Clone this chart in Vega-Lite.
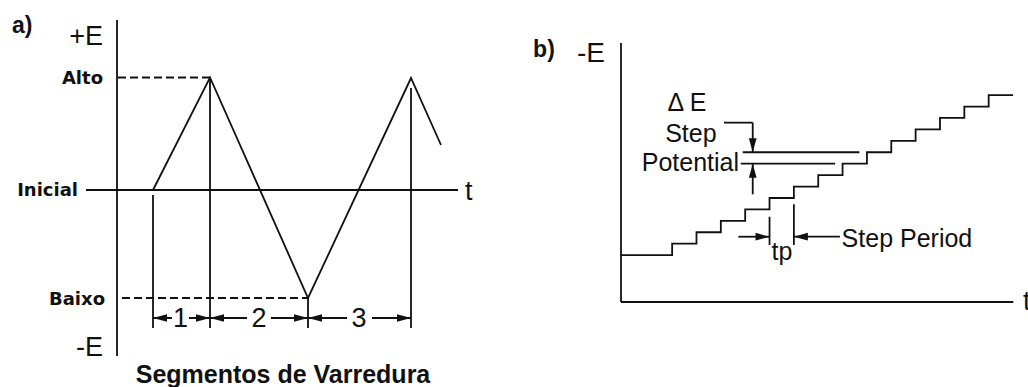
{
  "$schema": "https://vega.github.io/schema/vega-lite/v6.json",
  "padding": 0,
  "background": "white",
  "spacing": 0,
  "config": {
    "view": {"stroke": null},
    "text": {"font": "Liberation Sans", "color": "#111"}
  },
  "datasets": {
    "a_lines": [
      {"t": 0, "E": 17.0, "t2": 0, "E2": -16.6, "kind": "solid"},
      {"t": -3.1, "E": 0, "t2": 34.1, "E2": 0, "kind": "solid"},
      {"t": 0.1, "E": 11.25, "t2": 9.3, "E2": 11.25, "kind": "dashed"},
      {"t": 0.5, "E": -10.8, "t2": 19.1, "E2": -10.8, "kind": "dashed"},
      {"t": 3.6, "E": -0.5, "t2": 3.6, "E2": -13.8, "kind": "solid"},
      {"t": 9.3, "E": 11.25, "t2": 9.3, "E2": -13.8, "kind": "solid"},
      {"t": 19.1, "E": -10.8, "t2": 19.1, "E2": -13.8, "kind": "solid"},
      {"t": 29.4, "E": 10.2, "t2": 29.4, "E2": -13.8, "kind": "solid"},
      {"t": 3.6, "E": -12.8, "t2": 5.5, "E2": -12.8, "kind": "solid"},
      {"t": 7.2, "E": -12.8, "t2": 9.3, "E2": -12.8, "kind": "solid"},
      {"t": 9.3, "E": -12.8, "t2": 13.0, "E2": -12.8, "kind": "solid"},
      {"t": 15.4, "E": -12.8, "t2": 19.1, "E2": -12.8, "kind": "solid"},
      {"t": 19.1, "E": -12.8, "t2": 23.0, "E2": -12.8, "kind": "solid"},
      {"t": 25.5, "E": -12.8, "t2": 29.4, "E2": -12.8, "kind": "solid"}
    ],
    "a_sweep": [
      {"i": 0, "t": 3.6, "E": 0},
      {"i": 1, "t": 9.3, "E": 11.25},
      {"i": 2, "t": 19.1, "E": -10.8},
      {"i": 3, "t": 29.4, "E": 11.2},
      {"i": 4, "t": 32.4, "E": 4.5}
    ],
    "a_heads": [
      {"t": 3.6, "E": -12.8, "dir": "left"},
      {"t": 9.3, "E": -12.8, "dir": "right"},
      {"t": 9.3, "E": -12.8, "dir": "left"},
      {"t": 19.1, "E": -12.8, "dir": "right"},
      {"t": 19.1, "E": -12.8, "dir": "left"},
      {"t": 29.4, "E": -12.8, "dir": "right"}
    ],
    "a_text": [
      {"label": "a)", "t": -10.5, "E": 15.7, "role": "panel"},
      {"label": "+E", "t": -1.4, "E": 14.5, "role": "axis-end"},
      {"label": "-E", "t": -1.4, "E": -16.6, "role": "axis-end"},
      {"label": "Alto", "t": -1.4, "E": 10.6, "role": "level"},
      {"label": "Inicial", "t": -3.9, "E": -0.6, "role": "level"},
      {"label": "Baixo", "t": -1.2, "E": -11.5, "role": "level"},
      {"label": "1", "t": 6.35, "E": -13.7, "role": "segment"},
      {"label": "2", "t": 14.2, "E": -13.7, "role": "segment"},
      {"label": "3", "t": 24.2, "E": -13.7, "role": "segment"},
      {"label": "t", "t": 34.8, "E": -1.0, "role": "axis-name"},
      {"label": "Segmentos de Varredura", "t": 16.6, "E": -19.3, "role": "caption"}
    ],
    "b_lines": [
      {"t": 0, "E": 22.66, "t2": 0, "E2": 0},
      {"t": 0, "E": 0, "t2": 16.11, "E2": 0},
      {"t": 5.0, "E": 13.1, "t2": 9.79, "E2": 13.1},
      {"t": 4.92, "E": 12.1, "t2": 8.79, "E2": 12.1},
      {"t": 4.23, "E": 15.69, "t2": 5.41, "E2": 15.69},
      {"t": 5.41, "E": 15.69, "t2": 5.41, "E2": 13.1},
      {"t": 5.41, "E": 9.42, "t2": 5.41, "E2": 12.1},
      {"t": 6.1, "E": 7.46, "t2": 6.1, "E2": 4.99},
      {"t": 7.1, "E": 8.55, "t2": 7.1, "E2": 4.99},
      {"t": 4.82, "E": 5.71, "t2": 6.1, "E2": 5.71},
      {"t": 8.99, "E": 5.71, "t2": 7.1, "E2": 5.71}
    ],
    "b_stairs": [
      {"t": 0, "E": 4.1},
      {"t": 2.1, "E": 5.1},
      {"t": 3.1, "E": 6.1},
      {"t": 4.1, "E": 7.1},
      {"t": 5.1, "E": 8.1},
      {"t": 6.1, "E": 9.1},
      {"t": 7.1, "E": 10.1},
      {"t": 8.1, "E": 11.1},
      {"t": 9.1, "E": 12.1},
      {"t": 10.1, "E": 13.1},
      {"t": 11.1, "E": 14.1},
      {"t": 12.1, "E": 15.1},
      {"t": 13.1, "E": 16.1},
      {"t": 14.1, "E": 17.1},
      {"t": 15.1, "E": 18.1},
      {"t": 16.1, "E": 18.1}
    ],
    "b_heads": [
      {"t": 5.41, "E": 13.1, "dir": "down"},
      {"t": 5.41, "E": 12.1, "dir": "up"},
      {"t": 6.1, "E": 5.71, "dir": "right"},
      {"t": 7.1, "E": 5.71, "dir": "left"}
    ],
    "b_text": [
      {"label": "b)", "t": -3.61, "E": 21.46, "role": "panel"},
      {"label": "-E", "t": -0.66, "E": 20.97, "role": "axis-end"},
      {"label": "Δ E", "t": 2.71, "E": 16.71, "role": "note"},
      {"label": "Step", "t": 2.87, "E": 14.02, "role": "note"},
      {"label": "Potential", "t": 2.85, "E": 11.49, "role": "note"},
      {"label": "tp", "t": 6.61, "E": 3.67, "role": "note"},
      {"label": "Step Period", "t": 9.06, "E": 4.79, "role": "note-left"},
      {"label": "t", "t": 16.51, "E": -0.7, "role": "axis-name"}
    ]
  },
  "hconcat": [
    {
      "width": 520,
      "height": 387,
      "encoding": {
        "x": {"field": "t", "type": "quantitative", "scale": {"domain": [-11.7, 40.3], "nice": false, "zero": false}, "axis": null},
        "y": {"field": "E", "type": "quantitative", "scale": {"domain": [-19.7, 19.0], "nice": false, "zero": false}, "axis": null}
      },
      "layer": [
        {
          "data": {"name": "a_lines"},
          "mark": {"type": "rule", "color": "#111", "strokeWidth": 1.8},
          "encoding": {
            "x2": {"field": "t2"},
            "y2": {"field": "E2"},
            "strokeDash": {"field": "kind", "type": "nominal", "scale": {"domain": ["solid", "dashed"], "range": [[1, 0], [8, 4]]}, "legend": null}
          }
        },
        {
          "data": {"name": "a_sweep"},
          "mark": {"type": "line", "color": "#111", "strokeWidth": 1.8},
          "encoding": {"order": {"field": "i", "type": "quantitative"}}
        },
        {
          "data": {"name": "a_heads"},
          "mark": {"type": "point", "filled": true, "opacity": 1, "color": "#111", "size": 196},
          "encoding": {
            "shape": {"field": "dir", "type": "nominal", "legend": null, "scale": {"domain": ["right", "left", "down", "up"], "range": ["M0,0L-2,-0.55L-2,0.55Z", "M0,0L2,-0.55L2,0.55Z", "M0,0L-0.55,-2L0.55,-2Z", "M0,0L-0.55,2L0.55,2Z"]}}
          }
        },
        {
          "data": {"name": "a_text"},
          "transform": [{"filter": "datum.role === 'panel'"}],
          "mark": {"type": "text", "align": "left", "baseline": "alphabetic", "fontWeight": "bold", "fontSize": 23},
          "encoding": {"text": {"field": "label"}}
        },
        {
          "data": {"name": "a_text"},
          "transform": [{"filter": "datum.role === 'axis-end'"}],
          "mark": {"type": "text", "align": "right", "baseline": "alphabetic", "fontSize": 27},
          "encoding": {"text": {"field": "label"}}
        },
        {
          "data": {"name": "a_text"},
          "transform": [{"filter": "datum.role === 'level'"}],
          "mark": {"type": "text", "align": "right", "baseline": "alphabetic", "font": "DejaVu Sans", "fontWeight": "bold", "fontSize": 18},
          "encoding": {"text": {"field": "label"}}
        },
        {
          "data": {"name": "a_text"},
          "transform": [{"filter": "datum.role === 'segment'"}],
          "mark": {"type": "text", "align": "center", "baseline": "alphabetic", "fontSize": 27},
          "encoding": {"text": {"field": "label"}}
        },
        {
          "data": {"name": "a_text"},
          "transform": [{"filter": "datum.role === 'axis-name'"}],
          "mark": {"type": "text", "align": "left", "baseline": "alphabetic", "fontSize": 27},
          "encoding": {"text": {"field": "label"}}
        },
        {
          "data": {"name": "a_text"},
          "transform": [{"filter": "datum.role === 'caption'"}],
          "mark": {"type": "text", "align": "center", "baseline": "alphabetic", "fontWeight": "bold", "fontSize": 25, "clip": true},
          "encoding": {"text": {"field": "label"}}
        }
      ]
    },
    {
      "width": 508,
      "height": 387,
      "encoding": {
        "x": {"field": "t", "type": "quantitative", "scale": {"domain": [-4.148, 16.715], "nice": false, "zero": false}, "axis": null},
        "y": {"field": "E", "type": "quantitative", "scale": {"domain": [-7.437, 26.42], "nice": false, "zero": false}, "axis": null}
      },
      "layer": [
        {
          "data": {"name": "b_lines"},
          "mark": {"type": "rule", "color": "#111", "strokeWidth": 1.8},
          "encoding": {"x2": {"field": "t2"}, "y2": {"field": "E2"}}
        },
        {
          "data": {"name": "b_stairs"},
          "mark": {"type": "line", "color": "#111", "strokeWidth": 1.8, "interpolate": "step-after"}
        },
        {
          "data": {"name": "b_heads"},
          "mark": {"type": "point", "filled": true, "opacity": 1, "color": "#111", "size": 196},
          "encoding": {
            "shape": {"field": "dir", "type": "nominal", "legend": null, "scale": {"domain": ["right", "left", "down", "up"], "range": ["M0,0L-2,-0.55L-2,0.55Z", "M0,0L2,-0.55L2,0.55Z", "M0,0L-0.55,-2L0.55,-2Z", "M0,0L-0.55,2L0.55,2Z"]}}
          }
        },
        {
          "data": {"name": "b_text"},
          "transform": [{"filter": "datum.role === 'panel'"}],
          "mark": {"type": "text", "align": "left", "baseline": "alphabetic", "fontWeight": "bold", "fontSize": 23},
          "encoding": {"text": {"field": "label"}}
        },
        {
          "data": {"name": "b_text"},
          "transform": [{"filter": "datum.role === 'axis-end'"}],
          "mark": {"type": "text", "align": "right", "baseline": "alphabetic", "fontSize": 28},
          "encoding": {"text": {"field": "label"}}
        },
        {
          "data": {"name": "b_text"},
          "transform": [{"filter": "datum.role === 'note'"}],
          "mark": {"type": "text", "align": "center", "baseline": "alphabetic", "fontSize": 25},
          "encoding": {"text": {"field": "label"}}
        },
        {
          "data": {"name": "b_text"},
          "transform": [{"filter": "datum.role === 'note-left'"}],
          "mark": {"type": "text", "align": "left", "baseline": "alphabetic", "fontSize": 25},
          "encoding": {"text": {"field": "label"}}
        },
        {
          "data": {"name": "b_text"},
          "transform": [{"filter": "datum.role === 'axis-name'"}],
          "mark": {"type": "text", "align": "left", "baseline": "alphabetic", "fontSize": 27, "clip": true},
          "encoding": {"text": {"field": "label"}}
        }
      ]
    }
  ]
}
